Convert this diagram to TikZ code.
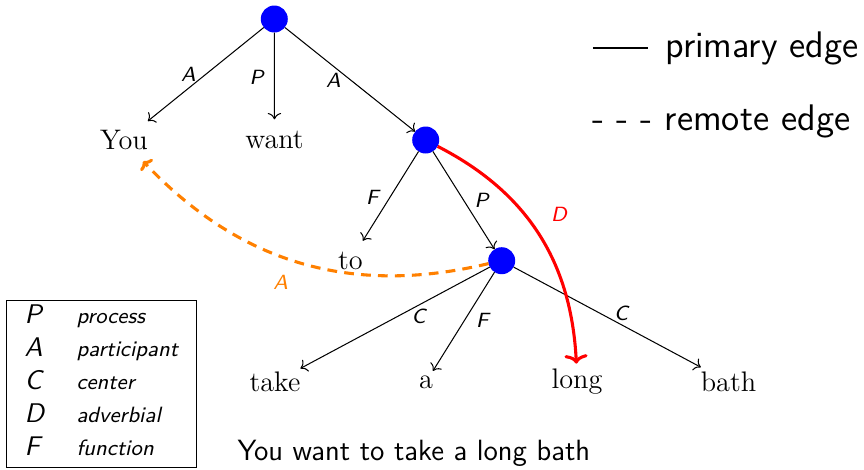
\documentclass[tikz,border=0pt]{standalone}
\usetikzlibrary{arrows.meta}
\begin{document}
\begin{tikzpicture}[x=0.3891pt, y=-0.3891pt,
  dot/.style={circle, fill=blue, inner sep=0pt, minimum size=10.5pt, outer sep=0pt},
  word/.style={inner sep=0pt, outer sep=0pt, minimum height=16.3pt, font=\fontsize{11}{13}\selectfont},
  lab/.style={inner sep=0pt, font=\fontsize{8}{9.6}\selectfont\sffamily\itshape},
  edge/.style={->, line width=0.4pt},
  leglet/.style={inner sep=0pt, anchor=base west, font=\fontsize{10.5}{12}\selectfont\sffamily\itshape},
  legdesc/.style={inner sep=0pt, anchor=base west, font=\fontsize{8.6}{10}\selectfont\sffamily\itshape},
  bigsans/.style={inner sep=0pt, anchor=base west, font=\fontsize{14.4}{17}\selectfont\sffamily}]
\useasboundingbox (0,0) rectangle (864,469);

% nodes
\node[dot] (root) at (274.3,19) {};
\node[dot] (n2) at (425.7,140) {};
\node[dot] (n3) at (501.7,260.7) {};
\node[word] (you) at (124,140.3) {You};
\node[word] (want) at (274.5,140.3) {want};
\node[word] (to) at (350.5,260.5) {to};
\node[word] (take) at (275,382) {take};
\node[word] (a) at (426,382) {a};
\node[word] (long) at (577,382) {long};
\node[word] (bath) at (728.5,382) {bath};

% primary edges
\draw[edge] (root) -- (you) node[lab] at (188.3,74) {A};
\draw[edge] (root) -- (want) node[lab] at (256.7,77.3) {P};
\draw[edge] (root) -- (n2) node[lab] at (333.3,80.3) {A};
\draw[edge] (n2) -- (to) node[lab] at (372.3,197.3) {F};
\draw[edge] (n2) -- (n3) node[lab] at (481.7,200.7) {P};
\draw[edge] (n3) -- (take) node[lab] at (418.7,316.7) {C};
\draw[edge] (n3) -- (a) node[lab] at (482.3,320) {F};
\draw[edge] (n3) -- (bath) node[lab] at (621,313.7) {C};

% red D edge
\draw[-{To[width=9pt,length=3.5pt]}, red, line width=1.2pt, shorten >=-1pt] (n2) to[bend left=30] (long);
\node[lab, text=red] (dlab) at (559,214) {D};

% orange remote edge
\draw[-{To[width=6.5pt,length=2.6pt]}, orange, line width=1.2pt, dash pattern=on 3.8pt off 2.8pt] (n3) to[bend left=30] (you);
\node[lab, text=orange] (alab) at (280.7,282.3) {A};

% legend box
\node[draw, line width=0.4pt, inner sep=0pt, minimum width=73.8pt, minimum height=65pt, anchor=north west] (legbox) at (6,300) {};
\node[leglet] (lp) at (24,323.5) {P};
\node[legdesc] (dp) at (76,323.5) {process};
\node[leglet] (la) at (24,356.4) {A};
\node[legdesc] (da) at (76,356.4) {participant};
\node[leglet] (lc) at (24,389.3) {C};
\node[legdesc] (dc) at (76,389.3) {center};
\node[leglet] (ld) at (24,422.2) {D};
\node[legdesc] (dd) at (76,422.2) {adverbial};
\node[leglet] (lf) at (24,455.1) {F};
\node[legdesc] (df) at (76,455.1) {function};

% right legend
\coordinate (pl) at (593,48.3);
\coordinate (pr) at (648.3,48.3);
\draw[line width=0.9pt] (pl) -- (pr);
\node[bigsans] (prim) at (665,57.3) {primary edge};
\node[bigsans] (rem) at (592,130) {- - - remote edge};

% sentence
\node[inner sep=0pt, anchor=base west, font=\fontsize{11.4}{13}\selectfont\sffamily] (sent) at (237,460) {You want to take a long bath};
\end{tikzpicture}
\end{document}
